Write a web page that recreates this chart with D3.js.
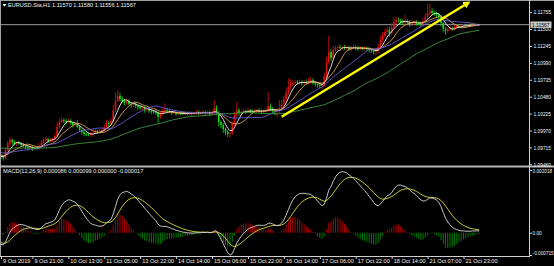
<!DOCTYPE html>
<html>
<head>
<meta charset="utf-8">
<script src="https://cdn.jsdelivr.net/npm/d3@7"></script>
<style>
  html, body { margin: 0; padding: 0; background: #000; overflow: hidden; }
  svg { display: block; }
  text { font-family: "Liberation Sans", Arial, sans-serif; }
</style>
</head>
<body>
<script>
// Chart header
var symbol = "EURUSD.Sta,H1";
var lastOHLC = ["1.11570", "1.11580", "1.11556", "1.11567"];
var macdTitle = "MACD(12,26,9) 0.000086 0.000099 0.000000 -0.000017";

// H1 closes before the first visible bar (only used to warm up the indicators)
var pastCloses = [
  1.09751,1.09736,1.09766,1.09721,1.09736,1.09751,1.09721,1.09706,1.09736,1.09751,
  1.09766,1.09736,1.09721,1.09751,1.09736,1.09766,1.09721,1.09736,1.09751,1.09721,
  1.09736,1.09751,1.09721,1.09736,1.09766,1.09751,1.09721,1.09736,1.09751,1.09736,
  1.09766,1.09751,1.09736,1.09751,1.09721,1.09736,1.09751,1.09736,1.09721,1.09736,
  1.09721,1.09706,1.09721,1.09691,1.09676,1.09691,1.09661,1.09676,1.09646,1.09661,
  1.09631,1.09646,1.09615,1.09631,1.09600,1.09615,1.09585,1.09600,1.09570,1.09585
];

// visible H1 closes, 9 Oct -> 22 Oct 2019 (open = previous close)
var closes = [
  1.09570,1.09555,1.09676,1.09781,1.09827,1.09796,1.09766,1.09781,1.09774,1.09751,
  1.09736,1.09721,1.09706,1.09721,1.09691,1.09706,1.09700,1.09736,1.09796,1.09827,
  1.09842,1.09812,1.09827,1.09842,1.09887,1.10023,1.10098,1.10128,1.10113,1.10098,
  1.10113,1.10083,1.10053,1.10068,1.10023,1.09978,1.09947,1.09917,1.09910,1.09902,
  1.09917,1.09932,1.09962,1.09947,1.09962,1.09978,1.10023,1.10083,1.10068,1.10113,
  1.10279,1.10415,1.10490,1.10445,1.10415,1.10385,1.10415,1.10370,1.10355,1.10370,
  1.10340,1.10324,1.10309,1.10315,1.10279,1.10294,1.10264,1.10258,1.10249,1.10234,
  1.10174,1.10219,1.10264,1.10279,1.10264,1.10249,1.10234,1.10240,1.10219,1.10234,
  1.10228,1.10219,1.10234,1.10219,1.10234,1.10225,1.10234,1.10249,1.10234,1.10240,
  1.10249,1.10234,1.10249,1.10219,1.10249,1.10309,1.10234,1.10098,1.10053,1.09993,
  1.09947,1.09917,1.09932,1.10068,1.10204,1.10279,1.10234,1.10249,1.10264,1.10249,
  1.10279,1.10264,1.10249,1.10264,1.10279,1.10264,1.10249,1.10264,1.10279,1.10340,
  1.10294,1.10264,1.10249,1.10264,1.10309,1.10370,1.10445,1.10536,1.10626,1.10672,
  1.10687,1.10702,1.10687,1.10702,1.10687,1.10702,1.10695,1.10717,1.10732,1.10687,
  1.10672,1.10656,1.10641,1.10656,1.10792,1.11004,1.11155,1.11064,1.11185,1.11215,
  1.11230,1.11215,1.11230,1.11215,1.11222,1.11200,1.11215,1.11230,1.11215,1.11200,
  1.11215,1.11208,1.11215,1.11200,1.11185,1.11170,1.11155,1.11170,1.11230,1.11336,
  1.11396,1.11456,1.11486,1.11441,1.11532,1.11607,1.11637,1.11630,1.11607,1.11592,
  1.11622,1.11607,1.11577,1.11592,1.11607,1.11592,1.11585,1.11577,1.11622,1.11683,
  1.11743,1.11773,1.11743,1.11728,1.11713,1.11683,1.11592,1.11502,1.11471,1.11502,
  1.11517,1.11502,1.11532,1.11547,1.11532,1.11547,1.11562,1.11547,1.11562,1.11556,
  1.11577,1.11562,1.11570,1.11567
];

// wick lengths above / below the body, in pips
var wickUp = [
  2,3,4,3,5,2,3,2,3,2, 3,2,2,3,2,3,2,4,3,4, 3,2,3,2,4,7,5,4,3,3, 4,3,2,3,6,3,2,3,2,2,
  3,2,3,2,3,2,4,5,3,4, 8,13,9,5,4,3,4,3,2,3, 3,2,3,2,2,3,2,3,2,2, 2,3,4,10,3,2,2,3,2,2,
  2,3,2,2,3,2,2,3,2,2, 3,2,2,2,3,12,4,3,2,3, 2,3,2,4,5,12,3,2,3,2, 3,2,2,3,2,3,2,2,3,21,
  4,3,2,3,12,6,5,8,13,7, 4,3,3,4,3,3,4,5,5,3, 3,2,3,3,5,8,24,4,6,4, 3,4,2,3,3,2,3,4,2,3,
  3,2,3,2,3,2,2,3,5,7, 6,5,4,5,6,7,5,4,3,4, 9,3,3,4,3,3,2,3,4,6, 14,12,5,4,3,3,3,2,3,3,
  3,2,3,2,3,2,2,2,2,2, 2,2,2,1
];
var wickDn = [
  3,4,2,2,3,4,2,3,2,3, 2,3,4,2,3,2,3,2,2,3, 2,3,2,3,2,2,3,2,3,4, 2,3,4,3,2,3,4,3,3,2,
  3,4,2,3,2,3,2,3,4,2, 2,3,2,4,3,4,3,2,4,3, 3,4,3,3,4,3,3,4,3,3, 9,3,2,2,3,2,3,2,3,2,
  3,2,3,2,2,3,2,2,3,2, 2,3,2,3,2,3,3,7,5,6, 5,5,6,3,3,3,4,3,2,3, 2,3,3,2,3,2,3,3,2,3,
  3,4,5,8,3,3,4,3,3,4, 3,4,3,3,4,4,3,3,4,3, 4,4,3,5,3,3,4,5,4,3, 3,2,3,3,2,3,3,2,3,3,
  2,3,3,3,4,3,4,5,3,3, 4,3,4,6,3,3,4,3,4,3, 3,3,4,3,3,4,3,4,3,3, 3,4,3,3,4,4,5,5,6,3,
  3,3,2,3,2,2,3,2,2,2, 2,2,2,1.1
];

// axes
var priceTicks = [1.11755, 1.11500, 1.11245, 1.10990, 1.10735, 1.10480, 1.10225, 1.09970, 1.09715, 1.09460];
var macdTicks = [0.002018, 0, -0.000715];
var macdTickLabels = ["0.002018", "0.00", "-0.000715"];
var timeTickIdx = [0, 14, 30, 46, 62, 78, 94, 110, 126, 142, 158, 174, 190, 206];
var timeTickLabels = ["9 Oct 2019", "9 Oct 21:00", "10 Oct 13:00", "11 Oct 05:00", "13 Oct 22:00",
  "14 Oct 14:00", "15 Oct 06:00", "15 Oct 22:00", "16 Oct 14:00", "17 Oct 06:00",
  "17 Oct 22:00", "18 Oct 14:00", "21 Oct 07:00", "21 Oct 23:00"];

// hand drawn trend line (bar index, price)
var trendIdx = [125, 208];
var trendPrice = [1.10178, 1.11894];

// moving averages on the price window
var maPeriods = [5, 10, 20, 60];
var maColors = ["#f2f2f2", "#e0a050", "#6a5cd8", "#3f9a3f"];

var W = 554, H = 266, axisX = 529;
var fs = 5.6;

var svg = d3.select("body").append("svg")
    .attr("width", W).attr("height", H)
    .style("background", "#000");

var nPast = pastCloses.length;
var all = pastCloses.concat(closes);

var bars = closes.map(function(c, i) {
  var o = i === 0 ? pastCloses[nPast - 1] : closes[i - 1];
  return { i: i, o: o, c: c,
    h: Math.max(o, c) + wickUp[i] * 0.0001,
    l: Math.min(o, c) - wickDn[i] * 0.0001 };
});

// scales
var x = d3.scaleLinear().domain([0, closes.length - 1]).range([1, 479.2]);
var y = d3.scaleLinear().domain([1.09460, 1.11755]).range([164.3, 12.2]);
var ym = d3.scaleLinear().domain([-0.000715, 0.002018]).range([255, 170]);

// indicators
function sma(src, n) {
  return src.map(function(v, k) {
    return d3.mean(src.slice(Math.max(0, k - n + 1), k + 1));
  });
}
function ema(src, n) {
  var a = 2 / (n + 1), out = [], prev = src[0];
  src.forEach(function(v) { prev = a * v + (1 - a) * prev; out.push(prev); });
  return out;
}
var e12 = ema(all, 12), e26 = ema(all, 26);
var macdAll = e12.map(function(v, k) { return v - e26[k]; });
var sigAll = ema(macdAll, 9);
var macd = macdAll.slice(nPast);
var signal = sigAll.slice(nPast);
var hist = macd.map(function(v, k) { return 1.2 * (v - signal[k]); });

var defs = svg.append("defs");
defs.append("clipPath").attr("id", "clipMain")
  .append("rect").attr("x", 0).attr("y", 1).attr("width", axisX).attr("height", 164);
defs.append("clipPath").attr("id", "clipMacd")
  .append("rect").attr("x", 0).attr("y", 168).attr("width", axisX).attr("height", 88);
defs.append("marker").attr("id", "arrow")
    .attr("viewBox", "0 0 10 10").attr("refX", 6).attr("refY", 5)
    .attr("markerWidth", 3).attr("markerHeight", 3).attr("orient", "auto")
  .append("path").attr("d", "M0,0L10,5L0,10z").attr("fill", "#ffff00");

// ---- price window ----
var main = svg.append("g").attr("clip-path", "url(#clipMain)");

// bid line
main.append("line")
    .attr("x1", 0).attr("x2", axisX)
    .attr("y1", y(closes[closes.length - 1])).attr("y2", y(closes[closes.length - 1]))
    .attr("stroke", "#9a9a9a").attr("stroke-width", 1);

var candle = main.selectAll("g.candle").data(bars).enter().append("g")
    .attr("class", "candle")
    .attr("fill", function(d) { return d.c >= d.o ? "#e01010" : "#10dc10"; })
    .attr("stroke", function(d) { return d.c >= d.o ? "#e01010" : "#10dc10"; });
candle.append("line")
    .attr("x1", function(d) { return x(d.i); }).attr("x2", function(d) { return x(d.i); })
    .attr("y1", function(d) { return y(d.h); }).attr("y2", function(d) { return y(d.l); })
    .attr("stroke-width", 0.8);
candle.append("rect")
    .attr("stroke", "none")
    .attr("x", function(d) { return x(d.i) - 0.8; })
    .attr("width", 1.6)
    .attr("y", function(d) { return y(Math.max(d.o, d.c)); })
    .attr("height", function(d) { return Math.max(0.8, y(Math.min(d.o, d.c)) - y(Math.max(d.o, d.c))); });

maPeriods.forEach(function(n, j) {
  var vals = sma(all, n).slice(nPast);
  main.append("path")
      .datum(vals)
      .attr("fill", "none")
      .attr("stroke", maColors[j])
      .attr("stroke-width", 0.9)
      .attr("d", d3.line()
        .x(function(d, i) { return x(i); })
        .y(function(d) { return y(d); }));
});

main.append("line")
    .attr("x1", x(trendIdx[0])).attr("y1", y(trendPrice[0]))
    .attr("x2", x(trendIdx[1])).attr("y2", y(trendPrice[1]))
    .attr("stroke", "#ffff00").attr("stroke-width", 2.4)
    .attr("marker-end", "url(#arrow)");

// ---- MACD window ----
var sub = svg.append("g").attr("clip-path", "url(#clipMacd)");
sub.selectAll("line.hist").data(hist).enter().append("line")
    .attr("class", "hist")
    .attr("x1", function(d, i) { return x(i); }).attr("x2", function(d, i) { return x(i); })
    .attr("y1", ym(0)).attr("y2", function(d) { return ym(d); })
    .attr("stroke", function(d) { return d >= 0 ? "#c40000" : "#008a00"; })
    .attr("stroke-width", 0.9);

sub.append("path").datum(signal)
    .attr("fill", "none").attr("stroke", "#dede3c").attr("stroke-width", 0.9)
    .attr("d", d3.line().x(function(d, i) { return x(i); }).y(function(d) { return ym(d); }));
sub.append("path").datum(macd)
    .attr("fill", "none").attr("stroke", "#d8d8d8").attr("stroke-width", 0.9)
    .attr("d", d3.line().x(function(d, i) { return x(i); }).y(function(d) { return ym(d); }));

// ---- frame, separators ----
svg.append("line").attr("x1", 0).attr("x2", W).attr("y1", 0.5).attr("y2", 0.5)
    .attr("stroke", "#a0a0a0");
svg.append("line").attr("x1", 0.5).attr("x2", 0.5).attr("y1", 0).attr("y2", 256)
    .attr("stroke", "#a0a0a0");
svg.append("rect").attr("x", 0).attr("y", 165.5).attr("width", W).attr("height", 2)
    .attr("fill", "#b8b8b8");
svg.append("line").attr("x1", axisX + 0.5).attr("x2", axisX + 0.5).attr("y1", 0).attr("y2", 256)
    .attr("stroke", "#d0d0d0");
svg.append("line").attr("x1", 0).attr("x2", axisX + 1).attr("y1", 256.5).attr("y2", 256.5)
    .attr("stroke", "#d0d0d0");

// price axis
var pAxis = svg.append("g")
    .attr("transform", "translate(" + (axisX + 0.5) + ",0)")
    .call(d3.axisRight(y).tickValues(priceTicks).tickFormat(d3.format(".5f")).tickSize(2.5).tickPadding(1.5));
// macd axis
var mAxis = svg.append("g")
    .attr("transform", "translate(" + (axisX + 0.5) + ",0)")
    .call(d3.axisRight(ym).tickValues(macdTicks)
      .tickFormat(function(d, i) { return macdTickLabels[i]; }).tickSize(2.5).tickPadding(0.6));
// time axis
var tAxis = svg.append("g")
    .attr("transform", "translate(0,256.5)")
    .call(d3.axisBottom(x).tickValues(timeTickIdx)
      .tickFormat(function(d, i) { return timeTickLabels[i]; }).tickSize(2.5).tickPadding(1));

[pAxis, mAxis, tAxis].forEach(function(g) {
  g.select(".domain").remove();
  g.selectAll(".tick line").attr("stroke", "#d0d0d0");
  g.selectAll(".tick text").attr("fill", "#f0f0f0")
    .attr("font-size", fs).attr("font-family", "Liberation Sans, Arial, sans-serif");
});
pAxis.selectAll(".tick text").attr("textLength", 17.5).attr("lengthAdjust", "spacingAndGlyphs");
mAxis.selectAll(".tick text")
    .attr("font-size", 4.7)
    .attr("dy", function(d, i) { return i === 0 ? "0.6em" : (i === 2 ? "-0.15em" : "0.32em"); });
tAxis.selectAll(".tick text").attr("text-anchor", "start").attr("dx", 1.5).attr("dy", "0.6em");

// current price label
var lastY = y(closes[closes.length - 1]);
svg.append("rect")
    .attr("x", axisX + 1.5).attr("y", lastY - 3.2).attr("width", 21).attr("height", 6.4)
    .attr("fill", "#c8c8c8");
svg.append("text")
    .attr("x", axisX + 3).attr("y", lastY + 2)
    .attr("font-size", fs).attr("fill", "#000")
    .attr("textLength", 17.5).attr("lengthAdjust", "spacingAndGlyphs")
    .text(d3.format(".5f")(closes[closes.length - 1]));

// titles
svg.append("path").attr("d", "M2.5,4L6.5,4L4.5,6.8Z").attr("fill", "#f0f0f0");
svg.append("text").attr("x", 8).attr("y", 7.4).attr("font-size", fs).attr("fill", "#f0f0f0")
    .text(symbol);
svg.append("text").attr("x", 52).attr("y", 7.4).attr("font-size", fs).attr("fill", "#f0f0f0")
    .text(lastOHLC.join(" "));
svg.append("text").attr("x", 3).attr("y", 172.8).attr("font-size", fs).attr("fill", "#f0f0f0")
    .text(macdTitle);
</script>
</body>
</html>
